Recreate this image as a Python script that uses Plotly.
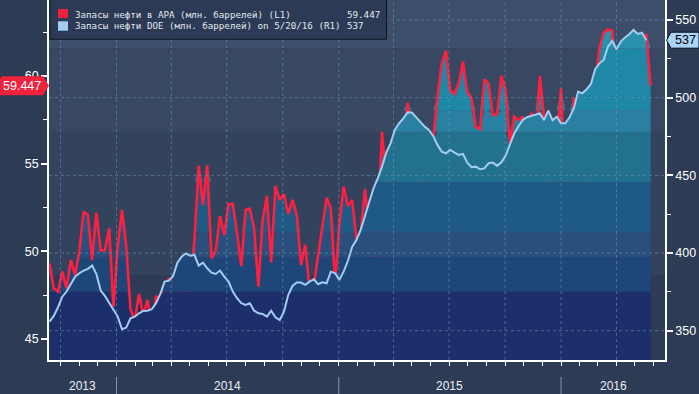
import plotly.graph_objects as go
import pandas as pd
import numpy as np

# ---------------- data ----------------
start_date = "2013-09-13"
apa_stocks = [
    49.31, 47.89, 47.70, 48.84, 47.89, 49.50, 48.65, 49.98, 52.26, 52.07,
    49.50, 52.20, 50.04, 50.07, 51.31, 46.84, 50.26, 52.36, 50.26, 46.69,
    46.04, 47.56, 46.37, 47.22, 45.51, 47.45, 47.26, 47.98, 48.46, 47.03,
    47.03, 49.50, 47.26, 47.64, 50.65, 54.87, 52.64, 54.90, 49.60, 50.04,
    52.01, 50.93, 52.70, 52.70, 51.03, 49.16, 52.36, 52.43, 51.31, 47.98,
    51.79, 53.16, 49.37, 53.73, 52.93, 53.25, 52.13, 52.93, 52.07, 49.22,
    50.36, 47.89, 48.08, 49.69, 51.41, 53.06, 52.45, 48.14, 51.60, 53.69,
    52.58, 52.93, 50.68, 50.99, 53.54, 51.21, 48.71, 51.41, 56.82, 53.97,
    54.30, 50.61, 53.59, 55.40, 58.48, 56.54, 54.26, 54.07, 53.65, 55.02,
    56.35, 58.82, 60.72, 61.45, 59.20, 58.97, 59.58, 60.82, 59.11, 58.73,
    57.11, 56.96, 59.81, 59.58, 57.78, 57.83, 60.00, 59.20, 56.16, 57.68,
    57.49, 57.68, 55.06, 57.91, 55.21, 60.00, 57.68, 52.78, 55.21, 55.87,
    59.30, 52.83, 55.97, 58.73, 58.54, 56.92, 53.92, 55.40, 59.58, 61.58,
    62.47, 62.66, 62.59, 57.53, 59.30, 59.68, 62.05, 59.77, 55.87, 60.91,
    62.40, 59.447,
]
doe_stocks = [
    355.9, 359.5, 365.1, 371.9, 375.2, 380.5, 384.8, 387.0, 388.7, 389.8,
    391.9, 386.5, 375.8, 372.4, 368.1, 363.4, 359.1, 350.9, 352.0, 358.0,
    359.1, 361.2, 362.7, 362.9, 363.8, 367.7, 373.7, 381.6, 382.2, 385.2,
    393.8, 397.7, 399.8, 398.3, 398.8, 391.9, 393.8, 390.2, 387.4, 386.5,
    388.7, 384.8, 381.6, 375.2, 370.9, 367.7, 366.6, 367.7, 362.9, 361.2,
    360.8, 359.1, 362.9, 358.6, 356.9, 362.3, 373.0, 378.8, 381.0, 381.0,
    379.5, 381.6, 383.1, 379.9, 381.2, 380.5, 388.0, 387.0, 382.7, 388.0,
    395.0, 404.0, 408.4, 414.9, 423.4, 432.5, 441.7, 448.1, 455.6, 464.6,
    470.6, 479.2, 483.5, 486.7, 490.6, 490.4, 487.4, 484.4, 481.4, 479.2,
    475.4, 469.6, 465.3, 464.2, 466.4, 464.6, 463.1, 463.8, 458.2, 455.2,
    455.6, 453.9, 454.5, 457.8, 458.2, 456.1, 458.4, 462.7, 470.0, 476.9,
    481.4, 485.6, 487.4, 488.2, 488.9, 489.9, 485.6, 491.7, 485.6, 487.8,
    483.5, 483.5, 487.4, 493.2, 503.9, 502.8, 505.4, 508.8, 518.3, 522.1,
    524.3, 532.8, 536.5, 531.1, 536.1, 538.8, 540.8, 543.6, 541.0, 541.8,
    537.0,
]
left_ticks = [45, 50, 55, 60]
right_ticks = [350, 400, 450, 500, 550]
year_labels = ["2013", "2014", "2015", "2016"]
apa_name = "Запасы нефти в АРА (млн. баррелей) (L1)"
doe_name = "Запасы нефти DOE (млн. баррелей) on 5/20/16 (R1)"

# ---------------- styling ----------------
L_RANGE = [43.80, 64.335]
R_RANGE = [331.14, 562.87]
RED = "#ff1f3f"
BLUE = "#a3cdf2"
WHITE = "#ffffff"
SANS = "Liberation Sans"
MONO = "DejaVu Sans Mono"

band_fracs = [0.0, 0.190, 0.287, 0.356, 0.495, 0.634, 0.694, 0.866, 1.0]
band_colors = ["#1c2f6a", "#1f4678", "#2a4f7d", "#1f5a86", "#21718f",
               "#2a80a0", "#1e88a6", "#2a92ad"]
bg_fracs = [0.0, 0.236, 0.634, 0.866, 1.0]
bg_colors = ["#2e3b56", "#33425d", "#384862", "#3d4e6b"]

start = pd.Timestamp(start_date)
apa_dates = pd.date_range(start, periods=len(apa_stocks), freq="7D")
doe_dates = pd.date_range(start, periods=len(doe_stocks), freq="7D")
x_left = start - pd.Timedelta(days=0.82)
x_right = x_left + pd.Timedelta(days=1011.5)

fig = go.Figure()


def add_band_fill(dates, values, rng, yaxis):
    vals = np.asarray(values, dtype=float)
    lo, hi = rng
    for k, col in enumerate(band_colors):
        a = lo + band_fracs[k] * (hi - lo)
        b = lo + band_fracs[k + 1] * (hi - lo)
        fig.add_trace(go.Scatter(x=dates, y=[a] * len(vals), mode="lines",
                                 line=dict(width=0), yaxis=yaxis,
                                 showlegend=False, hoverinfo="skip"))
        fig.add_trace(go.Scatter(x=dates, y=np.clip(vals, a, b), mode="lines",
                                 line=dict(width=0), fill="tonexty",
                                 fillcolor=col, yaxis=yaxis,
                                 showlegend=False, hoverinfo="skip"))


add_band_fill(doe_dates, doe_stocks, R_RANGE, "y2")
add_band_fill(apa_dates, apa_stocks, L_RANGE, "y")

fig.add_trace(go.Scatter(x=doe_dates, y=doe_stocks, mode="lines", yaxis="y2",
                         line=dict(color=BLUE, width=2), showlegend=False,
                         hoverinfo="skip"))
fig.add_trace(go.Scatter(x=apa_dates, y=apa_stocks, mode="lines", yaxis="y",
                         line=dict(color=RED, width=2.6), showlegend=False,
                         hoverinfo="skip"))

shapes = []
# background bands
for k, col in enumerate(bg_colors):
    shapes.append(dict(type="rect", xref="paper", yref="paper", x0=0, x1=1,
                       y0=bg_fracs[k], y1=bg_fracs[k + 1], fillcolor=col,
                       line=dict(width=0), layer="below"))
# gridlines
grid_col = "rgba(120,150,180,0.55)"
for v in right_ticks:
    shapes.append(dict(type="line", xref="paper", yref="y2", x0=0, x1=1, y0=v, y1=v,
                       line=dict(color=grid_col, width=1, dash="dot"), layer="above"))
for d in pd.date_range("2013-10-01", "2016-04-01", freq="QS"):
    shapes.append(dict(type="line", xref="x", yref="paper", x0=d, x1=d, y0=0, y1=1,
                       line=dict(color=grid_col, width=1, dash="dot"), layer="above"))
# year separators under axis
for yr in ["2014-01-01", "2015-01-01", "2016-01-01"]:
    shapes.append(dict(type="line", xref="x", yref="paper", x0=yr, x1=yr,
                       y0=-0.047, y1=-0.1, line=dict(color="#8994a8", width=1)))

# legend box
shapes.append(dict(type="rect", xref="paper", yref="paper", x0=0.0016, x1=0.548,
                   y0=0.891, y1=1.01, fillcolor="#2c3a56",
                   line=dict(color="#10151e", width=1), layer="above"))
shapes.append(dict(type="rect", xref="paper", yref="paper", x0=0.0146, x1=0.0308,
                   y0=0.95, y1=0.975, fillcolor="#f0213d", line=dict(width=0),
                   layer="above"))
shapes.append(dict(type="rect", xref="paper", yref="paper", x0=0.0146, x1=0.0308,
                   y0=0.9147, y1=0.9408, fillcolor="#a5cdf0", line=dict(width=0),
                   layer="above"))

# last value tags
apa_last = apa_stocks[-1]
doe_last = doe_stocks[-1]
apa_frac = (apa_last - L_RANGE[0]) / (L_RANGE[1] - L_RANGE[0])
doe_frac = (doe_last - R_RANGE[0]) / (R_RANGE[1] - R_RANGE[0])
shapes.append(dict(type="path", xref="paper", yref="paper", xsizemode="pixel",
                   ysizemode="pixel", xanchor=0, yanchor=apa_frac,
                   path="M -50,6 L -47,9.5 L -6,9.5 L 0,0 L -6,-9.5 L -50,-9.5 Z",
                   fillcolor="#f0213d", line=dict(width=0), layer="above"))
shapes.append(dict(type="path", xref="paper", yref="paper", xsizemode="pixel",
                   ysizemode="pixel", xanchor=1, yanchor=doe_frac,
                   path="M 1.5,0 L 6,-8 L 34,-8 L 34,8 L 6,8 Z",
                   fillcolor="#a9d3f7", line=dict(color="#0b0f18", width=1),
                   layer="above"))

annotations = []
annotations.append(dict(xref="paper", yref="paper", x=0, y=apa_frac, xanchor="right",
                        yanchor="middle", xshift=-6, text=f"{apa_last:.3f}",
                        showarrow=False, font=dict(family=SANS, size=12.5, color=WHITE)))
annotations.append(dict(xref="paper", yref="paper", x=1, y=doe_frac, xanchor="left",
                        yanchor="middle", xshift=8, text=f"{doe_last:.0f}",
                        showarrow=False, font=dict(family=SANS, size=12.5, color="#000000")))
# legend texts
leg_font = dict(family=MONO, size=9.2, color="#e3e7ee")
annotations.append(dict(xref="paper", yref="paper", x=0.0385, y=0.961, xanchor="left",
                        yanchor="middle", text=apa_name, showarrow=False, font=leg_font))
annotations.append(dict(xref="paper", yref="paper", x=0.0385, y=0.928, xanchor="left",
                        yanchor="middle", text=doe_name, showarrow=False, font=leg_font))
annotations.append(dict(xref="paper", yref="paper", x=0.4813, y=0.961, xanchor="left",
                        yanchor="middle", text=f"{apa_last:.3f}", showarrow=False,
                        font=leg_font))
annotations.append(dict(xref="paper", yref="paper", x=0.4813, y=0.928, xanchor="left",
                        yanchor="middle", text=f"{doe_last:.0f}", showarrow=False,
                        font=leg_font))
# year labels
year_bounds = [x_left, pd.Timestamp("2014-01-01"), pd.Timestamp("2015-01-01"),
               pd.Timestamp("2016-01-01"), x_right]
for k, lab in enumerate(year_labels):
    mid = year_bounds[k] + (year_bounds[k + 1] - year_bounds[k]) / 2
    annotations.append(dict(xref="x", yref="paper", x=mid, y=-0.072, xanchor="center",
                            yanchor="middle", text=lab, showarrow=False,
                            font=dict(family=SANS, size=12, color="#eef0f4")))

month_ticks = list(pd.date_range("2013-10-01", "2016-06-01", freq="MS"))

fig.update_layout(
    width=699, height=394,
    margin=dict(l=49, r=34, t=0, b=34),
    paper_bgcolor="#2d3b55", plot_bgcolor="#2d3b55",
    showlegend=False,
    shapes=shapes, annotations=annotations,
    xaxis=dict(type="date", range=[x_left, x_right], tickmode="array",
               tickvals=month_ticks, ticktext=[""] * len(month_ticks),
               ticks="outside", ticklen=4, tickcolor=WHITE, tickwidth=1,
               showline=True, linecolor=WHITE, linewidth=1.5,
               showgrid=False, zeroline=False),
    yaxis=dict(range=L_RANGE, tickmode="array", tickvals=left_ticks,
               ticks="outside", ticklen=6, tickwidth=2, tickcolor=WHITE,
               minor=dict(tickmode="array", tickvals=[47.5, 52.5, 57.5, 62.5],
                          ticks="outside", ticklen=4, tickcolor=WHITE, tickwidth=1),
               showline=True, linecolor=WHITE, linewidth=1.5,
               showgrid=False, zeroline=False,
               tickfont=dict(family=SANS, size=12.5, color=WHITE)),
    yaxis2=dict(range=R_RANGE, overlaying="y", side="right", tickmode="array",
                tickvals=right_ticks, ticks="outside", ticklen=6, tickwidth=2,
                tickcolor=WHITE,
                minor=dict(tickmode="array", tickvals=[375, 425, 475, 525],
                           ticks="outside", ticklen=4, tickcolor=WHITE, tickwidth=1),
                showline=True, linecolor=WHITE, linewidth=1.5,
                showgrid=False, zeroline=False,
                tickfont=dict(family=SANS, size=12.5, color=WHITE)),
)

fig.write_html(
    "out.html",
    config={"displayModeBar": False},
    post_script="document.body.style.margin='0';document.body.style.padding='0';"
                "document.body.style.background='#2d3b55';",
)
